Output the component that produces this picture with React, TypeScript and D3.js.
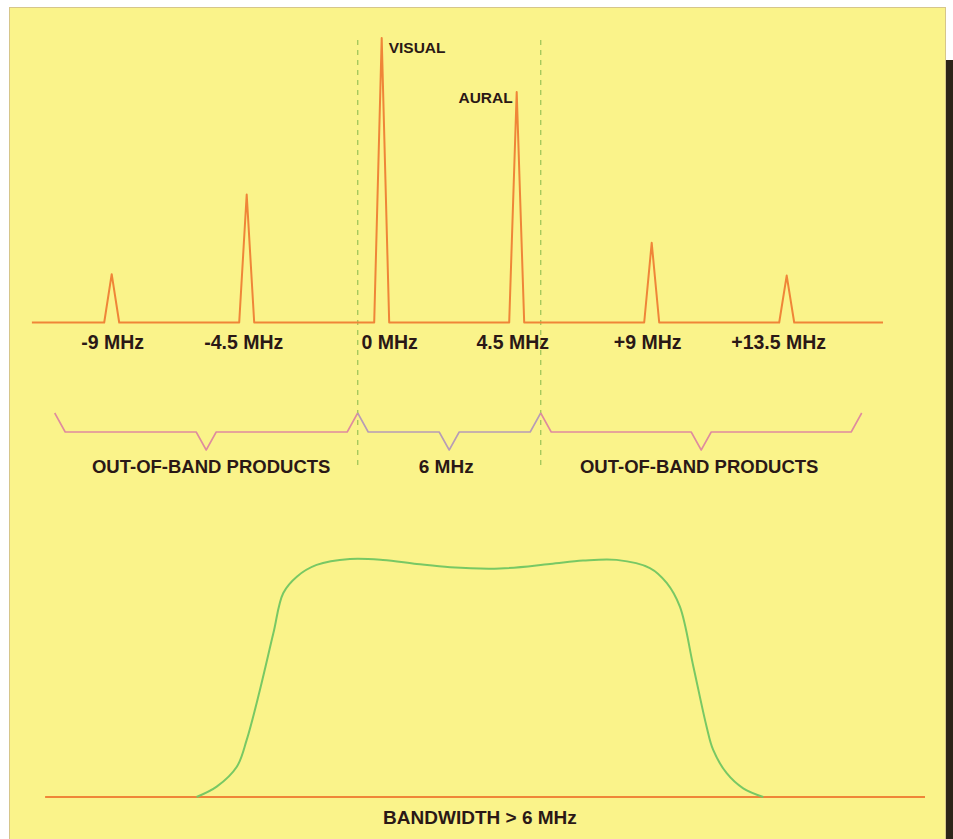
import React from "react";
import * as d3 from "d3";

// ---- data ----
const peakFreqs = [-9, -4.5, 0, 4.5, 9, 13.5];
const peakAmps = [17, 45, 100, 81, 28, 16.5];
const tickLabels = ["-9 MHz", "-4.5 MHz", "0 MHz", "4.5 MHz", "+9 MHz", "+13.5 MHz"];
const channelEdges = [-0.8, 5.3];
const braceEdges = [-10.9, -0.8, 5.3, 16.0];
const braceLabels = ["OUT-OF-BAND PRODUCTS", "6 MHz", "OUT-OF-BAND PRODUCTS"];
const carrierLabels = ["VISUAL", "AURAL"];
const responseFreqs = [-6.17, -5.5, -4.83, -4.5, -4.06, -3.61, -3.28, -2.83, -2.17, -1.06, 0.04, 1.17, 2.28, 3.94, 5.61, 6.71, 7.83, 8.94, 9.5, 9.94, 10.39, 10.83, 11.05, 11.5, 12.05, 12.72];
const responseVals = [0, 4.3, 12.6, 23.8, 44.6, 68.3, 85, 91.8, 96.7, 99.2, 98.8, 97.1, 95.7, 95.2, 97.1, 98.5, 98.8, 95.4, 89.2, 79.3, 54.3, 29.3, 19.6, 9.9, 3.6, 0];
const bottomLabel = "BANDWIDTH > 6 MHz";
const topSpan = [-11.66, 16.71];
const bottomSpan = [-11.22, 18.11];

// ---- styles ----
const W = 953, H = 839;
const BG = "#faf38a";
const ORANGE = "#ef8538";
const GREEN_DASH = "#a6c95c";
const TEXT = "#2a1816";
const FONT = "'Liberation Sans', Arial, sans-serif";
const tickDx = [1, -3, 8, -4, -4, -8];

export default function App() {
  const x = d3.scaleLinear().domain([0, 1]).range([381.7, 411.7]);
  const yTop = d3.scaleLinear().domain([0, 100]).range([322.5, 38]);
  const yBot = d3.scaleLinear().domain([0, 100]).range([797, 557]);
  const hw = 0.25;

  const specPts: [number, number][] = [[topSpan[0], 0]];
  peakFreqs.forEach((f, i) => {
    specPts.push([f - hw, 0], [f, peakAmps[i]], [f + hw, 0]);
  });
  specPts.push([topSpan[1], 0]);
  const specLine = d3.line<[number, number]>().x(d => x(d[0])).y(d => yTop(d[1]));

  const respLine = d3.line<number>()
    .x((_, i) => x(responseFreqs[i]))
    .y(d => yBot(d))
    .curve(d3.curveCatmullRom.alpha(0.5));

  const tipY = 413, flatY = 432, vY = 450, diag = 10.5, vHalf = 10;
  const braces = braceLabels.map((lab, i) => {
    const x0 = x(braceEdges[i]), x1 = x(braceEdges[i + 1]);
    const c = (x0 + x1) / 2;
    const d = `M${x0},${tipY} L${x0 + diag},${flatY} L${c - vHalf},${flatY} L${c},${vY} L${c + vHalf},${flatY} L${x1 - diag},${flatY} L${x1},${tipY}`;
    return { d, c, lab, i };
  });

  const respCenter = (x(responseFreqs[0]) + x(responseFreqs[responseFreqs.length - 1])) / 2;

  return (
    <svg width={W} height={H} style={{ position: "absolute", left: 0, top: 0 }} fontFamily={FONT}>
      <rect x={0} y={0} width={W} height={H} fill="#ffffff" />
      <rect x={9.5} y={7.5} width={936} height={840} fill={BG} stroke="#d6c68a" strokeWidth={1} />
      <rect x={946} y={60} width={7} height={H - 60} fill="#2b2418" />

      {/* channel edge dashed lines */}
      {channelEdges.map((f, i) => (
        <line key={i} x1={x(f)} x2={x(f)} y1={40} y2={467} stroke={GREEN_DASH} strokeWidth={1.4} strokeDasharray="5,5" />
      ))}

      {/* spectrum */}
      <path d={specLine(specPts) || ""} fill="none" stroke={ORANGE} strokeWidth={2} strokeLinejoin="round" />

      {/* carrier labels */}
      <text x={x(0) + 7} y={53} fontSize={15.5} fontWeight="bold" fill={TEXT}>{carrierLabels[0]}</text>
      <text x={x(4.5) - 4} y={103} fontSize={15.5} fontWeight="bold" fill={TEXT} textAnchor="end">{carrierLabels[1]}</text>

      {/* tick labels */}
      {tickLabels.map((t, i) => (
        <text key={t} x={x(peakFreqs[i]) + tickDx[i]} y={349} fontSize={19.5} fontWeight="bold" fill={TEXT} textAnchor="middle">{t}</text>
      ))}

      {/* braces */}
      {braces.map(b => (
        <g key={b.i}>
          <path d={b.d} fill="none" stroke={b.i === 1 ? "#b79cb6" : "#df8b9e"} strokeWidth={1.6} strokeLinejoin="round" />
          <text x={b.c + (b.i === 0 ? 5 : b.i === 1 ? -3 : -2)} y={473} fontSize={b.i === 1 ? 19 : 18.5} fontWeight="bold" fill={TEXT} textAnchor="middle">{b.lab}</text>
        </g>
      ))}

      {/* bottom response */}
      <line x1={x(bottomSpan[0])} x2={x(bottomSpan[1])} y1={797} y2={797} stroke={ORANGE} strokeWidth={2} />
      <path d={respLine(responseVals) || ""} fill="none" stroke="#78c864" strokeWidth={2} />
      <text x={respCenter} y={824} fontSize={19} fontWeight="bold" fill={TEXT} textAnchor="middle">{bottomLabel}</text>
    </svg>
  );
}
